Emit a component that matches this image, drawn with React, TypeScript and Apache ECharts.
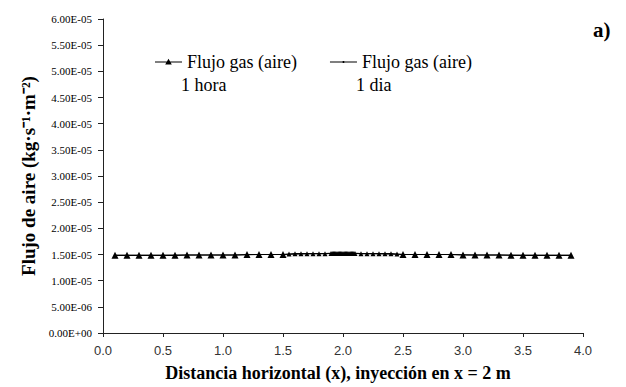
import React, { useEffect, useRef } from "react";
import * as echarts from "echarts";

// 1 hora series: positions (m) and air flux values (kg·s-1·m-2)
const xHora = [
  0.1, 0.2, 0.3, 0.4, 0.5, 0.6, 0.7, 0.8, 0.9, 1.0, 1.1, 1.2, 1.3, 1.4, 1.5,
  1.55, 1.6, 1.65, 1.7, 1.75, 1.8, 1.85,
  1.9, 1.91, 1.92, 1.93, 1.94, 1.95, 1.96, 1.97, 1.98, 1.99, 2.0, 2.01, 2.02, 2.03, 2.04, 2.05, 2.06, 2.07, 2.08, 2.09, 2.1,
  2.15, 2.2, 2.25, 2.3, 2.35, 2.4, 2.45,
  2.5, 2.6, 2.7, 2.8, 2.9, 3.0, 3.1, 3.2, 3.3, 3.4, 3.5, 3.6, 3.7, 3.8, 3.9,
];
const yHora = [
  1.485e-5, 1.485e-5, 1.485e-5, 1.485e-5, 1.485e-5, 1.485e-5, 1.49e-5, 1.49e-5, 1.49e-5, 1.49e-5, 1.49e-5, 1.5e-5, 1.5e-5, 1.5e-5, 1.5e-5,
  1.51e-5, 1.515e-5, 1.515e-5, 1.515e-5, 1.515e-5, 1.515e-5, 1.515e-5,
  1.52e-5, 1.52e-5, 1.52e-5, 1.52e-5, 1.52e-5, 1.52e-5, 1.52e-5, 1.52e-5, 1.52e-5, 1.52e-5, 1.52e-5, 1.52e-5, 1.52e-5, 1.52e-5, 1.52e-5, 1.52e-5, 1.52e-5, 1.52e-5, 1.52e-5, 1.52e-5, 1.52e-5,
  1.515e-5, 1.515e-5, 1.515e-5, 1.515e-5, 1.515e-5, 1.515e-5, 1.51e-5,
  1.5e-5, 1.5e-5, 1.5e-5, 1.5e-5, 1.5e-5, 1.49e-5, 1.49e-5, 1.49e-5, 1.49e-5, 1.485e-5, 1.485e-5, 1.485e-5, 1.485e-5, 1.485e-5, 1.485e-5,
];
// 1 dia series
const xDia = [
  0.1, 0.3, 0.5, 0.7, 0.9, 1.1, 1.3, 1.5, 1.7, 1.9, 2.0, 2.1, 2.3, 2.5, 2.7, 2.9, 3.1, 3.3, 3.5, 3.7, 3.9,
];
const yDia = [
  1.485e-5, 1.485e-5, 1.485e-5, 1.49e-5, 1.49e-5, 1.49e-5, 1.5e-5, 1.5e-5, 1.515e-5, 1.52e-5, 1.52e-5, 1.52e-5, 1.515e-5, 1.5e-5, 1.5e-5, 1.5e-5, 1.49e-5, 1.49e-5, 1.485e-5, 1.485e-5, 1.485e-5,
];

const yTickLabels = [
  "0.00E+00", "5.00E-06", "1.00E-05", "1.50E-05", "2.00E-05", "2.50E-05", "3.00E-05",
  "3.50E-05", "4.00E-05", "4.50E-05", "5.00E-05", "5.50E-05", "6.00E-05",
];
const xTickLabels = ["0.0", "0.5", "1.0", "1.5", "2.0", "2.5", "3.0", "3.5", "4.0"];

const seriesNames = ["Flujo gas (aire) 1 hora", "Flujo gas (aire) 1 dia"];
const legendLine1 = "Flujo gas (aire)";
const legendLine2 = ["1 hora", "1 dia"];

const SERIF = "'Liberation Serif', 'Times New Roman', serif";
const SANS = "'Liberation Sans', Arial, sans-serif";

const horaIcon =
  "path://M0,3.6L27,3.6L27,4.6L0,4.6Z M13.5,0.8L16.8,6.6L10.2,6.6Z M0,0L0.01,0L0.01,0.01Z M26.99,8L27,8L27,7.99Z";
const diaIcon =
  "path://M0,3.6L27,3.6L27,4.6L0,4.6Z M12.7,3.1L14.3,3.1L14.3,5.1L12.7,5.1Z M0,0L0.01,0L0.01,0.01Z M26.99,8L27,8L27,7.99Z";

export default function App() {
  const ref = useRef<HTMLDivElement>(null);
  useEffect(() => {
    if (!ref.current) return;
    const chart = echarts.init(ref.current, undefined, { renderer: "svg" });
    const yStep = 5e-6;
    chart.setOption({
      animation: false,
      backgroundColor: "#ffffff",
      grid: { left: 103, right: 43, top: 19, bottom: 50, containLabel: false },
      legend: {
        left: 150,
        top: 48,
        itemWidth: 27,
        itemHeight: 8,
        itemGap: 33,
        data: [
          { name: seriesNames[0], icon: horaIcon },
          { name: seriesNames[1], icon: diaIcon },
        ],
        formatter: () => legendLine1,
        textStyle: { fontFamily: SERIF, fontSize: 18, lineHeight: 16, color: "#000" },
      },
      graphic: [
        { type: "text", left: 181, top: 76, style: { text: legendLine2[0], font: `18px ${SERIF}`, fill: "#000" } },
        { type: "text", left: 356, top: 76, style: { text: legendLine2[1], font: `18px ${SERIF}`, fill: "#000" } },
        { type: "text", left: 593, top: 19, style: { text: "a)", font: `bold 21px ${SERIF}`, fill: "#000" } },
      ],
      xAxis: {
        type: "value",
        min: 0,
        max: 4,
        interval: 0.5,
        name: "Distancia horizontal (x), inyección en x = 2 m",
        nameLocation: "middle",
        nameGap: 31,
        nameTextStyle: { fontFamily: SERIF, fontWeight: "bold", fontSize: 18, color: "#000", padding: [0, 10, 0, 0] },
        axisLine: { lineStyle: { color: "#222", width: 1 } },
        axisTick: { show: true, inside: false, length: 4, lineStyle: { color: "#222" } },
        splitLine: { show: false },
        axisLabel: {
          fontFamily: SANS,
          fontSize: 13,
          color: "#333",
          margin: 11,
          formatter: (v: number) => xTickLabels[Math.round(v / 0.5)] ?? "",
        },
      },
      yAxis: {
        type: "value",
        min: 0,
        max: 6e-5,
        interval: yStep,
        name: "Flujo de aire (kg·s⁻¹·m⁻²)",
        nameLocation: "middle",
        nameRotate: 90,
        nameGap: 62,
        nameTextStyle: { fontFamily: SERIF, fontWeight: "bold", fontSize: 19, color: "#000" },
        axisLine: { show: true, lineStyle: { color: "#222", width: 1 } },
        axisTick: { show: true, inside: false, length: 5, lineStyle: { color: "#222" } },
        splitLine: { show: false },
        axisLabel: {
          fontFamily: SERIF,
          fontSize: 11,
          color: "#000",
          margin: 11,
          formatter: (v: number) => yTickLabels[Math.round(v / yStep)] ?? "",
        },
      },
      series: [
        {
          name: seriesNames[0],
          type: "line",
          data: xHora.map((x, i) => [x, yHora[i]]),
          symbol: "triangle",
          symbolSize: (val: number[]) => {
            const x = val[0];
            return x > 1.52 && x < 2.48 ? 5 : 7;
          },
          itemStyle: { color: "#000" },
          lineStyle: { color: "#000", width: 1.2 },
          z: 3,
        },
        {
          name: seriesNames[1],
          type: "line",
          data: xDia.map((x, i) => [x, yDia[i]]),
          symbol: "circle",
          symbolSize: 2,
          showSymbol: false,
          itemStyle: { color: "#000" },
          lineStyle: { color: "#000", width: 1 },
          z: 2,
        },
      ],
    });
    return () => chart.dispose();
  }, []);
  return (
    <div
      ref={ref}
      style={{ position: "fixed", left: 0, top: 0, width: 626, height: 387 }}
    />
  );
}
